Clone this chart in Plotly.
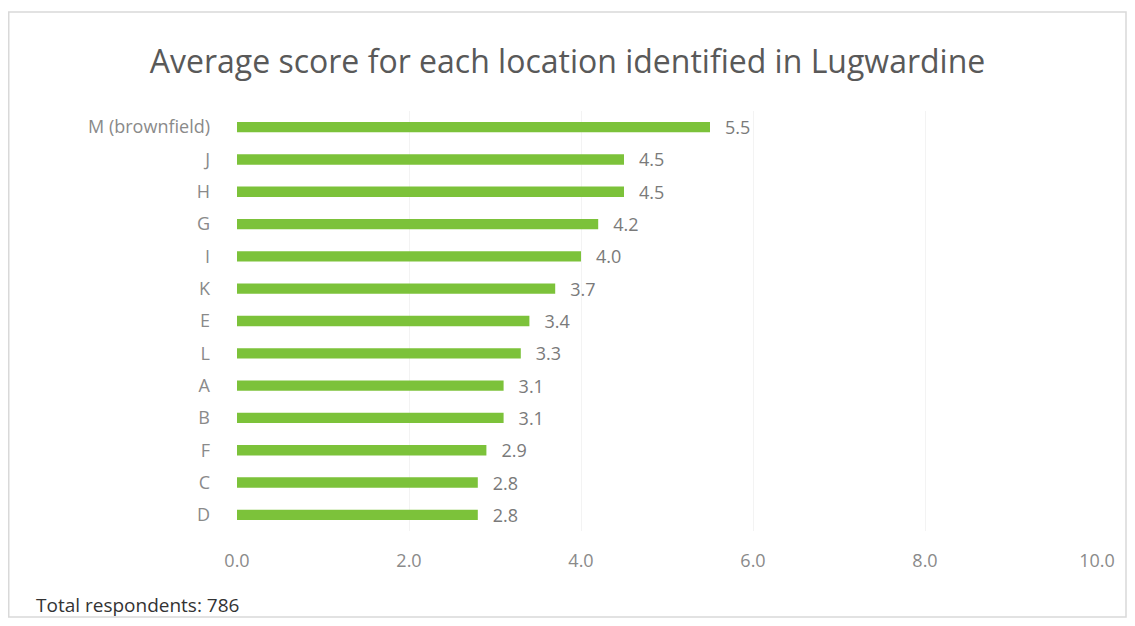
import plotly.graph_objects as go

categories = ["M (brownfield)", "J", "H", "G", "I", "K", "E", "L", "A", "B", "F", "C", "D"]
scores = [5.5, 4.5, 4.5, 4.2, 4.0, 3.7, 3.4, 3.3, 3.1, 3.1, 2.9, 2.8, 2.8]
x_ticks = [0, 2, 4, 6, 8, 10]
x_tick_labels = ["0.0", "2.0", "4.0", "6.0", "8.0", "10.0"]
title_text = "Average score for each location identified in Lugwardine"
footnote = "Total respondents: 786"

W, H = 1119, 610
L, R, T, B = 229, 30, 103, 87
pw, ph = W - L - R, H - T - B

fig = go.Figure(go.Bar(
    x=scores,
    y=categories,
    orientation="h",
    marker=dict(color="#7cc23a", line=dict(width=0)),
    width=0.32,
    texttemplate="\u2002\u2009%{x:.1f}",
    textposition="outside",
    constraintext="none",
    textfont=dict(family="Open Sans", size=18, color="#7a7a7a"),
    cliponaxis=False,
))

fig.update_layout(
    width=W, height=H,
    margin=dict(l=L, r=R, t=T, b=B),
    paper_bgcolor="white", plot_bgcolor="white",
    showlegend=False,
    title=dict(text=title_text, x=0.5, xanchor="center", y=1 - 54/H, yanchor="middle",
               font=dict(family="Open Sans", size=32, color="#595959")),
    font=dict(family="Open Sans", color="#777777"),
    xaxis=dict(range=[0, 10], tickvals=x_ticks, ticktext=x_tick_labels,
               showgrid=True, gridcolor="#f3f3f3", zeroline=False, showline=False,
               tickfont=dict(size=18, color="#8a8a8a"), ticklabelstandoff=17),
    yaxis=dict(autorange="reversed", showgrid=False, zeroline=False, showline=False,
               tickfont=dict(size=18, color="#8a8a8a"), ticklabelstandoff=26),
    shapes=[dict(type="rect", xref="paper", yref="paper",
                 x0=(0.75 - L)/pw, x1=(1118 - L)/pw,
                 y0=(H - B - 609)/ph, y1=(H - B - 4)/ph,
                 line=dict(color="#d9d9d9", width=1.5), fillcolor="rgba(0,0,0,0)", layer="below")],
    annotations=[dict(text=footnote, xref="paper", yref="paper",
                      x=(26 - L)/pw, y=(H - B - 597)/ph, xanchor="left", yanchor="middle",
                      showarrow=False, font=dict(family="Open Sans", size=19, color="#333333"))],
)

fig.write_html("out.html")
